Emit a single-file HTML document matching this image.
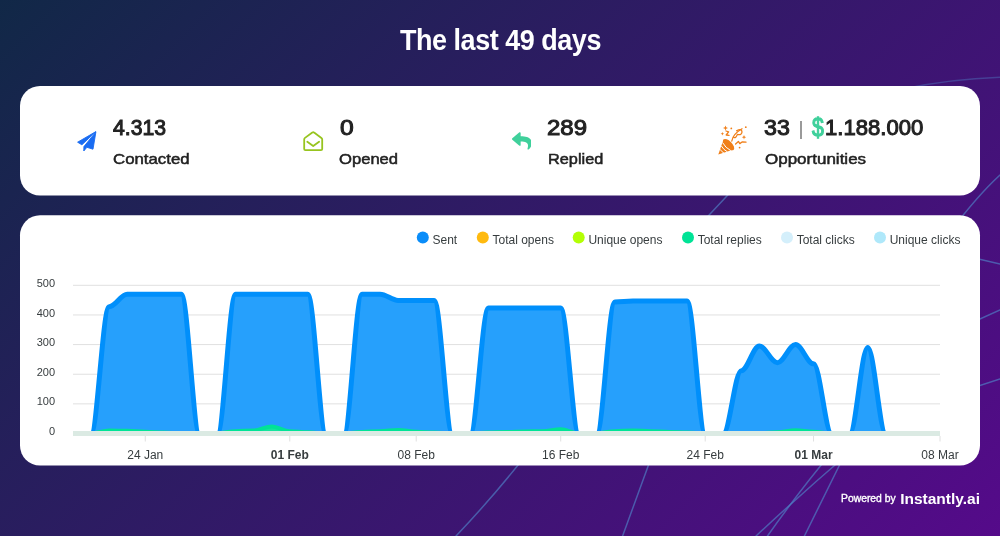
<!DOCTYPE html>
<html lang="en">
<head>
<meta charset="utf-8">
<title>The last 49 days</title>
<style>
html,body{margin:0;padding:0;}
body{width:1000px;height:536px;overflow:hidden;position:relative;
 font-family:"Liberation Sans",Arial,sans-serif;background:#2f1a68;}
.bg{position:absolute;left:0;top:0;width:1000px;height:536px;background:linear-gradient(135deg,#112847 0%,#550a8a 100%);}
svg.bgl,svg.chart{position:absolute;left:0;top:0;}
.title{position:absolute;left:0;top:0;width:1000px;text-align:center;color:#fff;font-weight:700;
 font-size:29px;line-height:29px;white-space:nowrap;}
.title span{position:absolute;left:399.5px;top:26.3px;transform-origin:0 0;transform:scaleX(0.93);letter-spacing:-0.5px;}
.card{position:absolute;left:20px;width:960px;background:#fff;border-radius:20px;}
.c1{top:86px;height:109px;}
.c2{top:215px;height:250px;}
.num{position:absolute;font-weight:400;font-size:22px;line-height:22px;color:#222;white-space:nowrap;-webkit-text-stroke:1.0px #222;transform-origin:0 0;}
.lbl{position:absolute;font-weight:400;font-size:15px;line-height:15px;color:#222;white-space:nowrap;-webkit-text-stroke:0.5px #222;transform-origin:0 0;}
.ico{position:absolute;}
.pw{position:absolute;color:#fff;white-space:nowrap;}
</style>
</head>
<body>
<div class="bg"></div>
<svg class="bgl" width="1000" height="536" viewBox="0 0 1000 536" fill="none" stroke="#5082c8" stroke-opacity="0.65" stroke-width="1.5" stroke-linecap="round">
<path d="M900 89.5 Q950 79 1000 77.3" stroke-opacity="0.4"/>
<path d="M1000 175 Q978 195 950 232"/>
<path d="M970 257 L1000 264"/>
<path d="M1000 310 L960 328"/>
<path d="M1000 379 L960 392"/>
<path d="M740 182 L696 229"/>
<path d="M530 450 Q495 495 456 536"/>
<path d="M654 450 L622.6 536"/>
<path d="M832 452 Q800 490 767.5 536"/>
<path d="M850 452 Q800 495 756 536"/>
<path d="M846 452 L804.4 536"/>
</svg>
<div class="title"><span>The last 49 days</span></div>
<svg class="bgl" width="1000" height="536" viewBox="0 0 1000 536"><rect x="20" y="85.9" width="960" height="109.6" rx="20" ry="20" fill="#fff"/><rect x="20" y="215.3" width="960" height="250.2" rx="20" ry="20" fill="#fff"/></svg>

<!-- stat 1 -->
<svg class="ico" style="left:74px;top:128px" width="26" height="26" viewBox="74 128 26 26"><path d="M95.9 131.6 L77.6 142.2 L81.9 144.8 Z M95.9 131.9 L83.9 146.6 L83.8 151 L86.9 147.3 L93 149.2 Z" fill="#1a6cf2" stroke="#1a6cf2" stroke-width="0.9" stroke-linejoin="round"/></svg>
<div class="num" style="left:113px;top:117.0px;transform:scaleX(0.965)" id="n1">4.313</div>
<div class="lbl" style="left:113px;top:151.1px;transform:scaleX(1.12)" id="l1">Contacted</div>

<!-- stat 2 -->
<svg class="ico" style="left:300px;top:128px" width="26" height="26" viewBox="300 128 26 26" fill="none" stroke="#97c41f" stroke-width="1.8" stroke-linejoin="round" stroke-linecap="round"><path d="M304.2 149 V139.4 Q304.2 138.5 305 137.9 L312.3 132.6 Q313.2 131.9 314.1 132.6 L321.4 137.9 Q322.2 138.5 322.2 139.4 V149 Q322.2 150.2 321 150.2 H305.4 Q304.2 150.2 304.2 149 Z"/><path d="M307.3 141.8 L313.2 146 L319.1 141.8"/></svg>
<div class="num" style="left:340px;top:117.0px;transform:scaleX(1.12)" id="n2">0</div>
<div class="lbl" style="left:339.4px;top:151.1px;transform:scaleX(1.107)" id="l2">Opened</div>

<!-- stat 3 -->
<svg class="ico" style="left:511.6px;top:131.2px" width="19.8" height="19.8" viewBox="0 0 512 512"><path fill="#3fd09b" d="M8.309 189.836L184.313 37.851C199.719 24.546 224 35.347 224 56.015v80.053c160.629 1.839 288 34.032 288 186.258 0 61.441-39.581 122.309-83.333 154.132-13.653 9.931-33.111-2.533-28.077-18.631 45.344-145.012-21.507-183.51-176.59-185.742V360c0 20.7-24.3 31.453-39.687 18.164l-176.004-152c-11.071-9.562-11.086-26.753 0-36.328z"/></svg>
<div class="num" style="left:547px;top:117.0px;transform:scaleX(1.09)" id="n3">289</div>
<div class="lbl" style="left:547.5px;top:151.1px;transform:scaleX(1.087)" id="l3">Replied</div>

<!-- stat 4 -->
<svg class="ico" style="left:714px;top:122px" width="36" height="36" viewBox="714 122 36 36">
<g fill="#f07f19" stroke="none">
<path d="M718.3 154.6 L723.6 139.6 L733.6 149.6 Z"/>
<ellipse cx="728.6" cy="144.6" rx="7.2" ry="3.4" transform="rotate(45 728.6 144.6)"/>
</g>
<g stroke="#fff" stroke-width="1" fill="none">
<path d="M722.6 142.6 Q725.5 148 730.8 150.6"/>
<path d="M721.4 146 Q723.6 150 727.4 151.8"/>
<path d="M720.2 149.4 Q721.6 151.8 723.9 153"/>
</g>
<g fill="none" stroke="#f07f19" stroke-width="1.3" stroke-linecap="round" stroke-linejoin="round">
<path d="M726 131 L728.6 131.8 L726.2 135 L729 135.4"/>
<path d="M731.8 141 Q733 134 742 128.8"/>
<path d="M736.6 130.8 Q741.8 128 742 132 Q741.6 135.6 737.4 134.4 Q736 138.4 733.6 137.4"/>
<path d="M735.6 144 L738.4 141.4 L739.8 143.6 L742.4 141.8 L746 142.2"/>
</g>
<g fill="#f07f19">
<path d="M725.5 125.5 l0.7 1.8 1.8 0.7 -1.8 0.7 -0.7 1.8 -0.7 -1.8 -1.8 -0.7 1.8 -0.7z"/>
<path d="M722.4 132 l0.5 1.3 1.3 0.5 -1.3 0.5 -0.5 1.3 -0.5 -1.3 -1.3 -0.5 1.3 -0.5z"/>
<path d="M744 135 l0.6 1.6 1.6 0.6 -1.6 0.6 -0.6 1.6 -0.6 -1.6 -1.6 -0.6 1.6 -0.6z"/>
<circle cx="731.3" cy="128.4" r="0.9"/>
<circle cx="745.8" cy="127.2" r="0.9"/>
<circle cx="739.6" cy="147.6" r="0.9"/>
</g>
</svg>
<div class="num" style="left:764px;top:117.0px;transform:scaleX(1.057)" id="n4">33</div>
<div class="ico" style="left:800.2px;top:120.5px;width:1.4px;height:18px;background:#9a9a9a"></div>
<div class="num" style="left:811.9px;top:113.9px;font-size:26.5px;line-height:26.5px;transform:scaleX(0.80);color:#3fd09b;-webkit-text-stroke:1.3px #3fd09b" id="n5">$</div>
<div class="num" style="left:825.2px;top:117.0px;transform:scaleX(1.004)" id="n6">1.188.000</div>
<div class="lbl" style="left:764.6px;top:151.1px;transform:scaleX(1.133)" id="l4">Opportunities</div>

<svg class="chart" width="1000" height="536" viewBox="0 0 1000 536" font-family="'Liberation Sans', Arial, sans-serif">
<defs><clipPath id="cp"><rect x="70.0" y="270" width="873.0" height="165.9"/></clipPath></defs>
<line x1="73.0" y1="433.50" x2="940.0" y2="433.50" stroke="#e0e0e0" stroke-width="1"/>
<line x1="73.0" y1="403.86" x2="940.0" y2="403.86" stroke="#e0e0e0" stroke-width="1"/>
<line x1="73.0" y1="374.22" x2="940.0" y2="374.22" stroke="#e0e0e0" stroke-width="1"/>
<line x1="73.0" y1="344.58" x2="940.0" y2="344.58" stroke="#e0e0e0" stroke-width="1"/>
<line x1="73.0" y1="314.94" x2="940.0" y2="314.94" stroke="#e0e0e0" stroke-width="1"/>
<line x1="73.0" y1="285.30" x2="940.0" y2="285.30" stroke="#e0e0e0" stroke-width="1"/>

<g clip-path="url(#cp)">
<path d="M73.00 433.50 C79.32 433.50 84.74 433.50 91.06 433.50 C97.38 433.50 102.80 306.64 109.12 306.64 C115.45 306.64 120.87 294.19 127.19 294.19 C133.51 294.19 138.93 294.19 145.25 294.19 C151.57 294.19 156.99 294.19 163.31 294.19 C169.63 294.19 175.05 294.19 181.38 294.19 C187.70 294.19 193.12 433.50 199.44 433.50 C205.76 433.50 211.18 433.50 217.50 433.50 C223.82 433.50 229.24 294.19 235.56 294.19 C241.88 294.19 247.30 294.19 253.62 294.19 C259.95 294.19 265.37 294.19 271.69 294.19 C278.01 294.19 283.43 294.19 289.75 294.19 C296.07 294.19 301.49 294.19 307.81 294.19 C314.13 294.19 319.55 433.50 325.88 433.50 C332.20 433.50 337.62 433.50 343.94 433.50 C350.26 433.50 355.68 294.19 362.00 294.19 C368.32 294.19 373.74 294.19 380.06 294.19 C386.38 294.19 391.80 300.42 398.12 300.42 C404.45 300.42 409.87 300.42 416.19 300.42 C422.51 300.42 427.93 300.42 434.25 300.42 C440.57 300.42 445.99 433.50 452.31 433.50 C458.63 433.50 464.05 433.50 470.38 433.50 C476.70 433.50 482.12 308.12 488.44 308.12 C494.76 308.12 500.18 308.12 506.50 308.12 C512.82 308.12 518.24 308.12 524.56 308.12 C530.88 308.12 536.30 308.12 542.62 308.12 C548.95 308.12 554.37 308.12 560.69 308.12 C567.01 308.12 572.43 433.50 578.75 433.50 C585.07 433.50 590.49 433.50 596.81 433.50 C603.13 433.50 608.55 301.90 614.88 301.90 C621.20 301.90 626.62 301.01 632.94 301.01 C639.26 301.01 644.68 301.01 651.00 301.01 C657.32 301.01 662.74 301.01 669.06 301.01 C675.38 301.01 680.80 301.01 687.12 301.01 C693.45 301.01 698.87 433.50 705.19 433.50 C711.51 433.50 716.93 433.50 723.25 433.50 C729.57 433.50 734.99 370.66 741.31 370.66 C747.63 370.66 753.05 346.06 759.38 346.06 C765.70 346.06 771.12 362.66 777.44 362.66 C783.76 362.66 789.18 344.58 795.50 344.58 C801.82 344.58 807.24 363.85 813.56 363.85 C819.88 363.85 825.30 433.50 831.62 433.50 C837.95 433.50 843.37 433.50 849.69 433.50 C856.01 433.50 861.43 347.54 867.75 347.54 C874.07 347.54 879.49 433.50 885.81 433.50 C892.13 433.50 897.55 433.50 903.88 433.50 C910.20 433.50 915.62 433.50 921.94 433.50 C928.26 433.50 933.68 433.50 940.00 433.50 L940.00 433.50 L73.00 433.50 Z" fill="#26a0fc"/>
<path d="M73.00 433.50 C79.32 433.50 84.74 433.50 91.06 433.50 C97.38 433.50 102.80 306.64 109.12 306.64 C115.45 306.64 120.87 294.19 127.19 294.19 C133.51 294.19 138.93 294.19 145.25 294.19 C151.57 294.19 156.99 294.19 163.31 294.19 C169.63 294.19 175.05 294.19 181.38 294.19 C187.70 294.19 193.12 433.50 199.44 433.50 C205.76 433.50 211.18 433.50 217.50 433.50 C223.82 433.50 229.24 294.19 235.56 294.19 C241.88 294.19 247.30 294.19 253.62 294.19 C259.95 294.19 265.37 294.19 271.69 294.19 C278.01 294.19 283.43 294.19 289.75 294.19 C296.07 294.19 301.49 294.19 307.81 294.19 C314.13 294.19 319.55 433.50 325.88 433.50 C332.20 433.50 337.62 433.50 343.94 433.50 C350.26 433.50 355.68 294.19 362.00 294.19 C368.32 294.19 373.74 294.19 380.06 294.19 C386.38 294.19 391.80 300.42 398.12 300.42 C404.45 300.42 409.87 300.42 416.19 300.42 C422.51 300.42 427.93 300.42 434.25 300.42 C440.57 300.42 445.99 433.50 452.31 433.50 C458.63 433.50 464.05 433.50 470.38 433.50 C476.70 433.50 482.12 308.12 488.44 308.12 C494.76 308.12 500.18 308.12 506.50 308.12 C512.82 308.12 518.24 308.12 524.56 308.12 C530.88 308.12 536.30 308.12 542.62 308.12 C548.95 308.12 554.37 308.12 560.69 308.12 C567.01 308.12 572.43 433.50 578.75 433.50 C585.07 433.50 590.49 433.50 596.81 433.50 C603.13 433.50 608.55 301.90 614.88 301.90 C621.20 301.90 626.62 301.01 632.94 301.01 C639.26 301.01 644.68 301.01 651.00 301.01 C657.32 301.01 662.74 301.01 669.06 301.01 C675.38 301.01 680.80 301.01 687.12 301.01 C693.45 301.01 698.87 433.50 705.19 433.50 C711.51 433.50 716.93 433.50 723.25 433.50 C729.57 433.50 734.99 370.66 741.31 370.66 C747.63 370.66 753.05 346.06 759.38 346.06 C765.70 346.06 771.12 362.66 777.44 362.66 C783.76 362.66 789.18 344.58 795.50 344.58 C801.82 344.58 807.24 363.85 813.56 363.85 C819.88 363.85 825.30 433.50 831.62 433.50 C837.95 433.50 843.37 433.50 849.69 433.50 C856.01 433.50 861.43 347.54 867.75 347.54 C874.07 347.54 879.49 433.50 885.81 433.50 C892.13 433.50 897.55 433.50 903.88 433.50 C910.20 433.50 915.62 433.50 921.94 433.50 C928.26 433.50 933.68 433.50 940.00 433.50" fill="none" stroke="#008ffb" stroke-width="5" stroke-linecap="butt" stroke-linejoin="round"/>
<path d="M73.00 433.50 C79.32 433.50 84.74 433.50 91.06 433.50 C97.38 433.50 102.80 430.54 109.12 430.54 C115.45 430.54 120.87 430.83 127.19 430.83 C133.51 430.83 138.93 431.72 145.25 431.72 C151.57 431.72 156.99 432.61 163.31 432.61 C169.63 432.61 175.05 433.20 181.38 433.20 C187.70 433.20 193.12 433.50 199.44 433.50 C205.76 433.50 211.18 433.50 217.50 433.50 C223.82 433.50 229.24 431.13 235.56 431.13 C241.88 431.13 247.30 430.54 253.62 430.54 C259.95 430.54 265.37 426.39 271.69 426.39 C278.01 426.39 283.43 431.13 289.75 431.13 C296.07 431.13 301.49 432.31 307.81 432.31 C314.13 432.31 319.55 433.50 325.88 433.50 C332.20 433.50 337.62 433.50 343.94 433.50 C350.26 433.50 355.68 432.02 362.00 432.02 C368.32 432.02 373.74 431.13 380.06 431.13 C386.38 431.13 391.80 429.94 398.12 429.94 C404.45 429.94 409.87 431.72 416.19 431.72 C422.51 431.72 427.93 432.61 434.25 432.61 C440.57 432.61 445.99 433.50 452.31 433.50 C458.63 433.50 464.05 433.50 470.38 433.50 C476.70 433.50 482.12 432.61 488.44 432.61 C494.76 432.61 500.18 432.02 506.50 432.02 C512.82 432.02 518.24 431.43 524.56 431.43 C530.88 431.43 536.30 431.13 542.62 431.13 C548.95 431.13 554.37 429.35 560.69 429.35 C567.01 429.35 572.43 433.50 578.75 433.50 C585.07 433.50 590.49 433.50 596.81 433.50 C603.13 433.50 608.55 431.13 614.88 431.13 C621.20 431.13 626.62 430.54 632.94 430.54 C639.26 430.54 644.68 431.13 651.00 431.13 C657.32 431.13 662.74 432.02 669.06 432.02 C675.38 432.02 680.80 432.61 687.12 432.61 C693.45 432.61 698.87 433.50 705.19 433.50 C711.51 433.50 716.93 433.50 723.25 433.50 C729.57 433.50 734.99 433.50 741.31 433.50 C747.63 433.50 753.05 433.20 759.38 433.20 C765.70 433.20 771.12 432.31 777.44 432.31 C783.76 432.31 789.18 430.24 795.50 430.24 C801.82 430.24 807.24 431.72 813.56 431.72 C819.88 431.72 825.30 433.50 831.62 433.50 C837.95 433.50 843.37 433.50 849.69 433.50 C856.01 433.50 861.43 432.91 867.75 432.91 C874.07 432.91 879.49 433.50 885.81 433.50 C892.13 433.50 897.55 433.50 903.88 433.50 C910.20 433.50 915.62 433.50 921.94 433.50 C928.26 433.50 933.68 433.50 940.00 433.50 L940.00 433.50 L73.00 433.50 Z" fill="#14e49d"/>
<path d="M73.00 433.50 C79.32 433.50 84.74 433.50 91.06 433.50 C97.38 433.50 102.80 430.54 109.12 430.54 C115.45 430.54 120.87 430.83 127.19 430.83 C133.51 430.83 138.93 431.72 145.25 431.72 C151.57 431.72 156.99 432.61 163.31 432.61 C169.63 432.61 175.05 433.20 181.38 433.20 C187.70 433.20 193.12 433.50 199.44 433.50 C205.76 433.50 211.18 433.50 217.50 433.50 C223.82 433.50 229.24 431.13 235.56 431.13 C241.88 431.13 247.30 430.54 253.62 430.54 C259.95 430.54 265.37 426.39 271.69 426.39 C278.01 426.39 283.43 431.13 289.75 431.13 C296.07 431.13 301.49 432.31 307.81 432.31 C314.13 432.31 319.55 433.50 325.88 433.50 C332.20 433.50 337.62 433.50 343.94 433.50 C350.26 433.50 355.68 432.02 362.00 432.02 C368.32 432.02 373.74 431.13 380.06 431.13 C386.38 431.13 391.80 429.94 398.12 429.94 C404.45 429.94 409.87 431.72 416.19 431.72 C422.51 431.72 427.93 432.61 434.25 432.61 C440.57 432.61 445.99 433.50 452.31 433.50 C458.63 433.50 464.05 433.50 470.38 433.50 C476.70 433.50 482.12 432.61 488.44 432.61 C494.76 432.61 500.18 432.02 506.50 432.02 C512.82 432.02 518.24 431.43 524.56 431.43 C530.88 431.43 536.30 431.13 542.62 431.13 C548.95 431.13 554.37 429.35 560.69 429.35 C567.01 429.35 572.43 433.50 578.75 433.50 C585.07 433.50 590.49 433.50 596.81 433.50 C603.13 433.50 608.55 431.13 614.88 431.13 C621.20 431.13 626.62 430.54 632.94 430.54 C639.26 430.54 644.68 431.13 651.00 431.13 C657.32 431.13 662.74 432.02 669.06 432.02 C675.38 432.02 680.80 432.61 687.12 432.61 C693.45 432.61 698.87 433.50 705.19 433.50 C711.51 433.50 716.93 433.50 723.25 433.50 C729.57 433.50 734.99 433.50 741.31 433.50 C747.63 433.50 753.05 433.20 759.38 433.20 C765.70 433.20 771.12 432.31 777.44 432.31 C783.76 432.31 789.18 430.24 795.50 430.24 C801.82 430.24 807.24 431.72 813.56 431.72 C819.88 431.72 825.30 433.50 831.62 433.50 C837.95 433.50 843.37 433.50 849.69 433.50 C856.01 433.50 861.43 432.91 867.75 432.91 C874.07 432.91 879.49 433.50 885.81 433.50 C892.13 433.50 897.55 433.50 903.88 433.50 C910.20 433.50 915.62 433.50 921.94 433.50 C928.26 433.50 933.68 433.50 940.00 433.50" fill="none" stroke="#00e396" stroke-width="4" stroke-linecap="butt"/>
</g>
<rect x="73.0" y="431" width="867.0" height="5" fill="#dbeae3"/>
<line x1="145.25" y1="436" x2="145.25" y2="441.5" stroke="#e0e0e0" stroke-width="1"/>
<line x1="289.75" y1="436" x2="289.75" y2="441.5" stroke="#e0e0e0" stroke-width="1"/>
<line x1="416.19" y1="436" x2="416.19" y2="441.5" stroke="#e0e0e0" stroke-width="1"/>
<line x1="560.69" y1="436" x2="560.69" y2="441.5" stroke="#e0e0e0" stroke-width="1"/>
<line x1="705.19" y1="436" x2="705.19" y2="441.5" stroke="#e0e0e0" stroke-width="1"/>
<line x1="813.56" y1="436" x2="813.56" y2="441.5" stroke="#e0e0e0" stroke-width="1"/>
<line x1="940.00" y1="436" x2="940.00" y2="441.5" stroke="#e0e0e0" stroke-width="1"/>

<text x="55" y="435.10" text-anchor="end" font-size="11" fill="#373d3f">0</text>
<text x="55" y="405.46" text-anchor="end" font-size="11" fill="#373d3f">100</text>
<text x="55" y="375.82" text-anchor="end" font-size="11" fill="#373d3f">200</text>
<text x="55" y="346.18" text-anchor="end" font-size="11" fill="#373d3f">300</text>
<text x="55" y="316.54" text-anchor="end" font-size="11" fill="#373d3f">400</text>
<text x="55" y="286.90" text-anchor="end" font-size="11" fill="#373d3f">500</text>

<text x="145.25" y="459" text-anchor="middle" font-size="12" fill="#373d3f">24 Jan</text>
<text x="289.75" y="459" text-anchor="middle" font-size="12" font-weight="700" fill="#373d3f">01 Feb</text>
<text x="416.19" y="459" text-anchor="middle" font-size="12" fill="#373d3f">08 Feb</text>
<text x="560.69" y="459" text-anchor="middle" font-size="12" fill="#373d3f">16 Feb</text>
<text x="705.19" y="459" text-anchor="middle" font-size="12" fill="#373d3f">24 Feb</text>
<text x="813.56" y="459" text-anchor="middle" font-size="12" font-weight="700" fill="#373d3f">01 Mar</text>
<text x="940.00" y="459" text-anchor="middle" font-size="12" fill="#373d3f">08 Mar</text>

<circle cx="422.8" cy="237.5" r="6" fill="#0a8df9"/><text x="432.5" y="244" font-size="12" fill="#373d3f">Sent</text>
<circle cx="482.8" cy="237.5" r="6" fill="#ffba0f"/><text x="492.5" y="244" font-size="12" fill="#373d3f">Total opens</text>
<circle cx="578.7" cy="237.5" r="6" fill="#b3ff05"/><text x="588.4" y="244" font-size="12" fill="#373d3f">Unique opens</text>
<circle cx="688.0" cy="237.5" r="6" fill="#00e396"/><text x="697.7" y="244" font-size="12" fill="#373d3f">Total replies</text>
<circle cx="787.0" cy="237.5" r="6" fill="#d4effb"/><text x="796.7" y="244" font-size="12" fill="#373d3f">Total clicks</text>
<circle cx="880.0" cy="237.5" r="6" fill="#afe8fa"/><text x="889.7" y="244" font-size="12" fill="#373d3f">Unique clicks</text>

</svg>

<div class="pw" style="left:841.3px;top:492.6px;font-size:10px;line-height:12px;font-weight:400;-webkit-text-stroke:0.35px #fff;transform-origin:0 0;transform:scaleX(1.035)" id="p1">Powered by</div>
<div class="pw" style="left:900.2px;top:490.2px;font-size:15.5px;line-height:18px;font-weight:700" id="p2">Instantly.ai</div>
</body>
</html>
